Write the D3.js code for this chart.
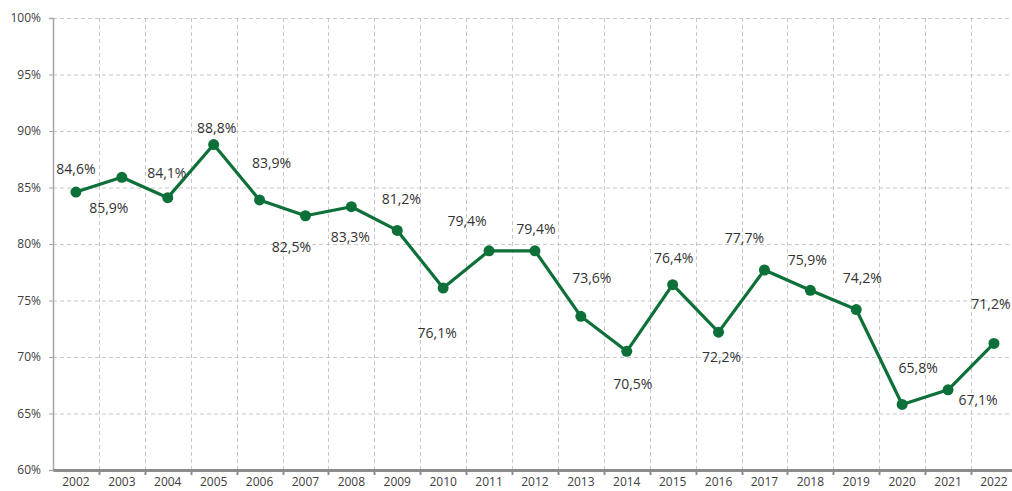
<!DOCTYPE html>
<html><head><meta charset="utf-8">
<script src="https://cdn.jsdelivr.net/npm/d3@7"></script>
<style>body{margin:0;background:#fff}svg{display:block}text{font-family:"Open Sans",sans-serif}</style>
</head><body><svg id="c" width="1012" height="491"></svg>
<script>
const years = ["2002","2003","2004","2005","2006","2007","2008","2009","2010","2011","2012","2013","2014","2015","2016","2017","2018","2019","2020","2021","2022"];
const values = [84.6,85.9,84.1,88.8,83.9,82.5,83.3,81.2,76.1,79.4,79.4,73.6,70.5,76.4,72.2,77.7,75.9,74.2,65.8,67.1,71.2];
const yTicks = [60,65,70,75,80,85,90,95,100];
// label offsets (dx, dy) relative to each point
const labelOffsets = [[0,-23],[-13,31],[-1,-25],[3,-16],[12,-37],[-14,31],[-1,30],[4,-31],[-6,45],[-22,-30],[1,-22],[11,-38],[6,33],[1,-27],[3,25],[-20,-32],[-3,-30],[6,-31],[16,-36],[30,10],[-3,-39]];

const svg = d3.select("#c");
const L = 53, T = 18, B = 470, R = 53 + 45.9*21;
const x = d3.scaleBand().domain(years).range([L, R]);
const y = d3.scaleLinear().domain([60,100]).range([B, T]);
const fmt = v => d3.format(".1f")(v).replace(".", ",") + "%";

// horizontal grid
svg.append("g").selectAll("line").data(yTicks.slice(1)).join("line")
  .attr("x1", L).attr("x2", R).attr("y1", d=>y(d)+0.5).attr("y2", d=>y(d)+0.5)
  .attr("stroke","#c8c8c8").attr("stroke-width",1).attr("stroke-dasharray","4,3");
// vertical grid at band boundaries
svg.append("g").selectAll("line").data(years.slice(1)).join("line")
  .attr("x1", d=>Math.round(x(d))+0.5).attr("x2", d=>Math.round(x(d))+0.5).attr("y1", T).attr("y2", B)
  .attr("stroke","#c8c8c8").attr("stroke-width",1).attr("stroke-dasharray","4,3");

// y axis
const ya = svg.append("g").attr("transform", `translate(${L},0)`)
  .call(d3.axisLeft(y).tickValues(yTicks).tickSize(4).tickPadding(8).tickFormat(d=>d+"%"));
ya.select(".domain").attr("stroke","#a6a6a6").attr("stroke-width",1.5);
ya.selectAll(".tick line").attr("stroke","#a6a6a6");
ya.selectAll("text").attr("font-size",12).attr("fill","#404040");

// x axis
const xa = svg.append("g").attr("transform", `translate(0,${B})`)
  .call(d3.axisBottom(x).tickSize(0).tickPadding(7));
xa.select(".domain").attr("stroke","#8c8c8c").attr("stroke-width",3);
xa.selectAll("text").attr("font-size",12).attr("fill","#404040");
svg.append("g").selectAll("line").data(years.slice(1)).join("line")
  .attr("x1", d=>Math.round(x(d))+0.5).attr("x2", d=>Math.round(x(d))+0.5).attr("y1", B).attr("y2", B+5)
  .attr("stroke","#8c8c8c").attr("stroke-width",2);

const cx = d => x(d) + x.bandwidth()/2;
svg.append("path").datum(values)
  .attr("d", d3.line().x((d,i)=>cx(years[i])).y(d=>y(d)))
  .attr("fill","none").attr("stroke","#0d7038").attr("stroke-width",3.2).attr("stroke-linejoin","round");
svg.append("g").selectAll("circle").data(values).join("circle")
  .attr("cx",(d,i)=>cx(years[i])).attr("cy",d=>y(d)).attr("r",5.5).attr("fill","#0d7038");

svg.append("g").selectAll("text").data(values).join("text")
  .attr("x",(d,i)=>cx(years[i])+labelOffsets[i][0])
  .attr("y",(d,i)=>y(d)+labelOffsets[i][1])
  .attr("dy","0.35em").attr("text-anchor","middle")
  .attr("font-size",14).attr("fill","#333333").text(d=>fmt(d));
</script></body></html>
